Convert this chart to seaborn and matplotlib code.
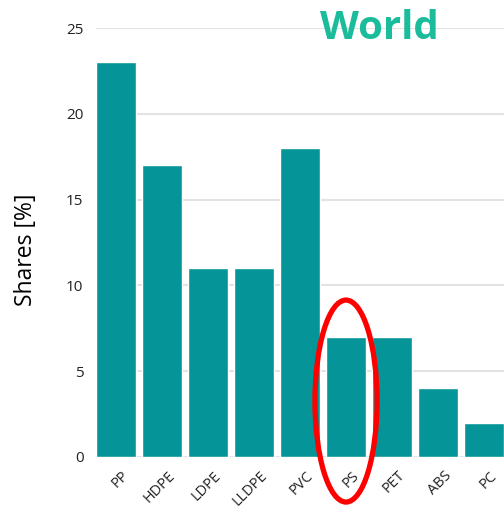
import matplotlib
matplotlib.use("Agg")
import matplotlib.pyplot as plt
import matplotlib.transforms as mtransforms
import seaborn as sns
import pandas as pd
from matplotlib.patches import Ellipse

polymers = ["PP", "HDPE", "LDPE", "LLDPE", "PVC", "PS", "PET", "ABS", "PC"]
shares = [23, 17, 11, 11, 18, 7, 7, 4, 2]
y_ticks = [0, 5, 10, 15, 20, 25]

df = pd.DataFrame({"polymer": polymers, "share": shares})

sns.set_theme(style="white")
plt.rcParams["font.family"] = ["Open Sans", "DejaVu Sans"]

fig = plt.figure(figsize=(5.04, 5.12), dpi=100)
ax = fig.add_axes([96 / 504, 1 - 457 / 512, 1 - 96 / 504, (457 - 28) / 512])

sns.barplot(data=df, x="polymer", y="share", color="#059599", saturation=1,
            width=0.87, ax=ax, zorder=2)

ax.set_xlim(-0.435, 8.435)
ax.set_ylim(0, 25)
ax.set_yticks(y_ticks)
ax.set_yticklabels([str(t) for t in y_ticks], fontsize=11, color="#222222")
ax.set_xticks(range(len(polymers)))
ax.set_xticklabels(polymers, rotation=45, ha="right", rotation_mode="anchor",
                   fontsize=10.5, color="#222222")
ax.tick_params(axis="x", length=0, pad=8)
ax.tick_params(axis="y", length=0, pad=9)

# nudge the slanted category labels a little to the right of each bar centre
shift = mtransforms.ScaledTranslation(4 / 72, 0, fig.dpi_scale_trans)
for lbl in ax.get_xticklabels():
    lbl.set_transform(lbl.get_transform() + shift)

ax.grid(axis="y", color="#e3e3e3", linewidth=1.5, zorder=0)
ax.set_axisbelow(True)
for s in ax.spines.values():
    s.set_visible(False)

ax.set_xlabel("")
ax.set_ylabel("Shares [%]", fontsize=16.5, color="black")
ax.yaxis.set_label_coords(-0.142, 0.4825)

fig.text(379 / 504, 1 - 39 / 512, "World", fontsize=29, fontweight="bold",
         color="#1abc9c", ha="center", va="baseline")

ps_idx = polymers.index("PS")
ax.add_patch(Ellipse((ps_idx, 3.26), 1.35, 11.77, fill=False,
                     edgecolor="red", linewidth=3.8, clip_on=False, zorder=5))

fig.savefig("out.png", dpi=100)
